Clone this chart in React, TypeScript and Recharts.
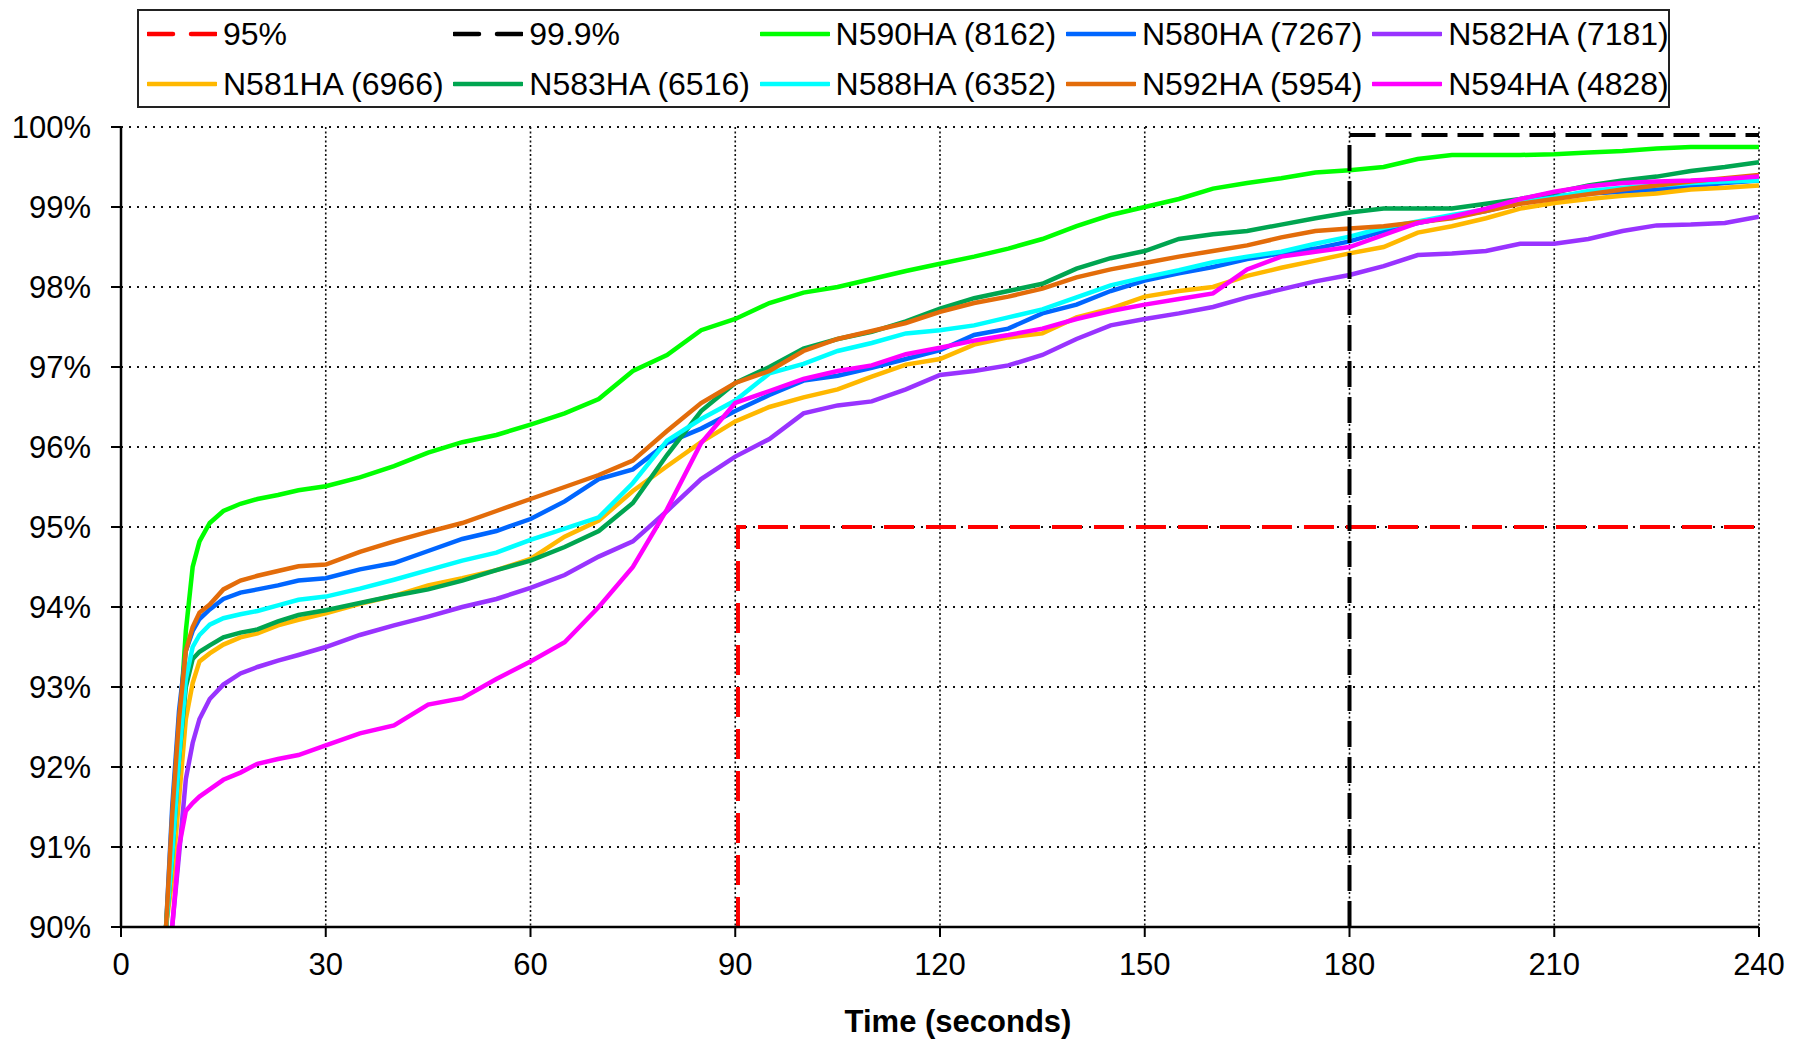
import React from 'react';
import { LineChart, Line, XAxis, YAxis, CartesianGrid, Label } from 'recharts';

// time axis (seconds) shared by all aircraft series
const TIME = [
  6.6, 7.5, 8.5, 9.5, 10.5, 11.5, 13, 15, 17.5, 20, 23, 26, 30, 35, 40, 45, 50, 55,
  60, 65, 70, 75, 80, 85, 90, 95, 100, 105, 110, 115, 120, 125, 130, 135, 140, 145,
  150, 155, 160, 165, 170, 175, 180, 185, 190, 195, 200, 205, 210, 215, 220, 225,
  230, 235, 240,
];

const N590HA = [
  90, 91.2, 92.4, 93.7, 94.5, 94.82, 95.05, 95.2, 95.29, 95.35, 95.4, 95.46, 95.51,
  95.62, 95.76, 95.93, 96.06, 96.15, 96.28, 96.42, 96.6, 96.95, 97.15, 97.46, 97.6,
  97.8, 97.93, 98.0, 98.1, 98.2, 98.29, 98.38, 98.48, 98.6, 98.76, 98.9, 99.0, 99.1,
  99.23, 99.3, 99.36, 99.43, 99.46, 99.5, 99.6, 99.65, 99.65, 99.65, 99.66, 99.68,
  99.7, 99.73, 99.75, 99.75, 99.75,
];

const N580HA = [
  90, 91.5, 92.7, 93.45, 93.7, 93.85, 93.97, 94.1, 94.18, 94.22, 94.27, 94.33, 94.36,
  94.47, 94.55, 94.7, 94.85, 94.95, 95.1, 95.32, 95.6, 95.72, 96.05, 96.23, 96.45,
  96.65, 96.83, 96.89, 96.99, 97.1, 97.21, 97.4, 97.48, 97.67, 97.78, 97.95, 98.08,
  98.17, 98.25, 98.35, 98.42, 98.48, 98.57, 98.7, 98.8, 98.88, 98.95, 99.06, 99.13,
  99.17, 99.19, 99.22, 99.26, 99.3, 99.33,
];

const N582HA = [
  null, 90, 90.9, 91.85, 92.3, 92.6, 92.85, 93.03, 93.17, 93.25, 93.33, 93.4, 93.5,
  93.65, 93.77, 93.88, 94.0, 94.1, 94.24, 94.4, 94.63, 94.82, 95.2, 95.6, 95.88, 96.1,
  96.42, 96.52, 96.57, 96.72, 96.9, 96.95, 97.02, 97.15, 97.35, 97.52, 97.6, 97.67,
  97.75, 97.87, 97.97, 98.07, 98.15, 98.26, 98.4, 98.42, 98.45, 98.54, 98.54, 98.6,
  98.7, 98.77, 98.78, 98.8, 98.88,
];

const N581HA = [
  90, 90.6, 91.6, 92.6, 93.05, 93.32, 93.42, 93.53, 93.62, 93.67, 93.77, 93.84, 93.92,
  94.04, 94.14, 94.27, 94.36, 94.46, 94.6, 94.88, 95.08, 95.45, 95.76, 96.06, 96.32,
  96.5, 96.62, 96.72, 96.88, 97.03, 97.1, 97.28, 97.37, 97.42, 97.62, 97.73, 97.88,
  97.95, 98.0, 98.14, 98.24, 98.33, 98.42, 98.5, 98.68, 98.76, 98.86, 98.98, 99.05,
  99.1, 99.14, 99.17, 99.22, 99.24, 99.27,
];

const N583HA = [
  90, 90.9, 92.1, 93.0, 93.35, 93.44, 93.52, 93.62, 93.68, 93.72, 93.82, 93.9, 93.96,
  94.05, 94.14, 94.22, 94.33, 94.46, 94.58, 94.75, 94.95, 95.3, 95.9, 96.45, 96.8,
  97.0, 97.23, 97.35, 97.44, 97.57, 97.73, 97.86, 97.95, 98.04, 98.23, 98.36, 98.45,
  98.6, 98.66, 98.7, 98.78, 98.86, 98.93, 98.98, 98.98, 98.98, 99.04, 99.1, 99.18,
  99.27, 99.33, 99.38, 99.45, 99.5, 99.56,
];

const N588HA = [
  90, 90.9, 92.1, 93.1, 93.5, 93.65, 93.78, 93.86, 93.91, 93.95, 94.02, 94.09, 94.13,
  94.23, 94.34, 94.46, 94.58, 94.68, 94.84, 94.98, 95.12, 95.55, 96.08, 96.35, 96.58,
  96.92, 97.04, 97.2, 97.3, 97.42, 97.46, 97.52, 97.62, 97.72, 97.87, 98.02, 98.12,
  98.21, 98.31, 98.38, 98.44, 98.54, 98.63, 98.74, 98.82, 98.9, 98.97, 99.06, 99.12,
  99.2, 99.24, 99.27, 99.3, 99.32, 99.33,
];

const N592HA = [
  90, 91.4, 92.6, 93.45, 93.75, 93.93, 94.03, 94.22, 94.33, 94.39, 94.45, 94.51, 94.53,
  94.69, 94.82, 94.94, 95.05, 95.2, 95.35, 95.5, 95.65, 95.83, 96.2, 96.55, 96.8,
  96.95, 97.2, 97.35, 97.45, 97.55, 97.69, 97.8, 97.88, 97.98, 98.12, 98.22, 98.3,
  98.38, 98.45, 98.52, 98.62, 98.7, 98.73, 98.76, 98.81, 98.86, 98.95, 99.04, 99.1,
  99.16, 99.22, 99.27, 99.32, 99.36, 99.4,
];

const N594HA = [
  null, 90, 91.0, 91.45, 91.55, 91.63, 91.72, 91.84, 91.93, 92.04, 92.1, 92.15, 92.27,
  92.42, 92.52, 92.78, 92.86, 93.1, 93.32, 93.56, 94.0, 94.5, 95.22, 96.05, 96.55,
  96.7, 96.85, 96.95, 97.02, 97.16, 97.24, 97.33, 97.4, 97.48, 97.6, 97.7, 97.78,
  97.85, 97.92, 98.22, 98.38, 98.44, 98.5, 98.65, 98.8, 98.88, 98.98, 99.1, 99.19,
  99.26, 99.3, 99.32, 99.33, 99.35, 99.38,
];

// target lines
const REF95_TIME = [90.4, 90.4, 240];
const REF95_VALUE = [90, 95, 95];
const REF999_TIME = [180, 180, 240];
const REF999_VALUE = [90, 99.9, 99.9];

const X_TICKS = [0, 30, 60, 90, 120, 150, 180, 210, 240];
const Y_TICKS = [90, 91, 92, 93, 94, 95, 96, 97, 98, 99, 100];

const FONT = '"Liberation Sans", Arial, sans-serif';

type Series = {
  key: string;
  label: string;
  color: string;
  dash?: string;
  time: number[];
  values: (number | null)[];
};

// legend order (row by row)
const SERIES: Series[] = [
  { key: 'r95', label: '95%', color: '#FF0000', dash: '30 12', time: REF95_TIME, values: REF95_VALUE },
  { key: 'r999', label: '99.9%', color: '#000000', dash: '26 10', time: REF999_TIME, values: REF999_VALUE },
  { key: 'N590HA', label: 'N590HA (8162)', color: '#00FF00', time: TIME, values: N590HA },
  { key: 'N580HA', label: 'N580HA (7267)', color: '#0066FF', time: TIME, values: N580HA },
  { key: 'N582HA', label: 'N582HA (7181)', color: '#9933FF', time: TIME, values: N582HA },
  { key: 'N581HA', label: 'N581HA (6966)', color: '#FFB800', time: TIME, values: N581HA },
  { key: 'N583HA', label: 'N583HA (6516)', color: '#00A550', time: TIME, values: N583HA },
  { key: 'N588HA', label: 'N588HA (6352)', color: '#00FFFF', time: TIME, values: N588HA },
  { key: 'N592HA', label: 'N592HA (5954)', color: '#E36C0A', time: TIME, values: N592HA },
  { key: 'N594HA', label: 'N594HA (4828)', color: '#FF00FF', time: TIME, values: N594HA },
];

const toRows = (s: Series) =>
  s.time
    .map((t, i) => ({ t, v: s.values[i] }))
    .filter((r) => r.v !== null && r.v !== undefined);

function ChartLegend() {
  return (
    <div
      style={{
        position: 'absolute',
        left: 137,
        top: 9,
        width: 1529,
        height: 95,
        border: '2px solid #222',
        background: '#fff',
        fontFamily: FONT,
        fontSize: 32,
        color: '#000',
      }}
    >
      {SERIES.map((s, i) => {
        const col = i % 5;
        const row = Math.floor(i / 5);
        return (
          <div
            key={s.key}
            style={{
              position: 'absolute',
              left: 8 + col * 306.3,
              top: row === 0 ? 3 : 53,
              height: 40,
              display: 'flex',
              alignItems: 'center',
              whiteSpace: 'nowrap',
            }}
          >
            <svg width={70} height={10} style={{ marginRight: 6 }}>
              <line
                x1={1}
                y1={5}
                x2={69}
                y2={5}
                stroke={s.color}
                strokeWidth={4.5}
                strokeDasharray={s.dash ? '25 18' : undefined}
                strokeLinecap="round"
              />
            </svg>
            <span>{s.label}</span>
          </div>
        );
      })}
    </div>
  );
}

export default function App() {
  const tickStyle = { fontSize: 31, fill: '#000', fontFamily: FONT };
  const aircraft = SERIES.slice(2);
  const refs = SERIES.slice(0, 2);

  return (
    <div
      style={{
        position: 'absolute',
        left: 0,
        top: 0,
        width: 1803,
        height: 1040,
        background: '#fff',
        fontFamily: FONT,
      }}
    >
      <LineChart
        width={1803}
        height={1040}
        margin={{ top: 127, right: 44, left: 0, bottom: 0 }}
      >
        <CartesianGrid
          vertical={false}
          stroke="#111"
          strokeWidth={1.8}
          strokeDasharray="2 6"
        />
        <CartesianGrid
          horizontal={false}
          stroke="#111"
          strokeWidth={1.6}
          strokeDasharray="2 2.5"
        />
        <XAxis
          type="number"
          dataKey="t"
          domain={[0, 240]}
          ticks={X_TICKS}
          allowDataOverflow
          height={113}
          tickSize={10}
          tickMargin={16}
          axisLine={{ stroke: '#000', strokeWidth: 2.5 }}
          tickLine={{ stroke: '#000', strokeWidth: 2 }}
          tick={tickStyle}
        >
          <Label
            content={(props: any) => {
              const vb = props.viewBox || { x: 121, y: 927, width: 1638 };
              return (
                <text
                  x={vb.x + vb.width / 2 + 18}
                  y={vb.y + 94}
                  textAnchor="middle"
                  dominantBaseline="central"
                  style={{ fontSize: 31, fontWeight: 'bold', fontFamily: FONT, fill: '#000' }}
                >
                  Time (seconds)
                </text>
              );
            }}
          />
        </XAxis>
        <YAxis
          type="number"
          domain={[90, 100]}
          ticks={Y_TICKS}
          allowDataOverflow
          width={121}
          tickSize={10}
          tickMargin={20}
          tickFormatter={(v) => `${v}%`}
          axisLine={{ stroke: '#000', strokeWidth: 2.5 }}
          tickLine={{ stroke: '#000', strokeWidth: 2 }}
          tick={tickStyle}
        />
        {aircraft.map((s) => (
          <Line
            key={s.key}
            data={toRows(s)}
            type="linear"
            dataKey="v"
            stroke={s.color}
            strokeWidth={4.5}
            dot={false}
            activeDot={false}
            isAnimationActive={false}
          />
        ))}
        {refs.map((s) => (
          <Line
            key={s.key}
            data={toRows(s)}
            type="linear"
            dataKey="v"
            stroke={s.color}
            strokeWidth={4}
            strokeDasharray={s.dash}
            dot={false}
            activeDot={false}
            isAnimationActive={false}
          />
        ))}
      </LineChart>
      <ChartLegend />
    </div>
  );
}
